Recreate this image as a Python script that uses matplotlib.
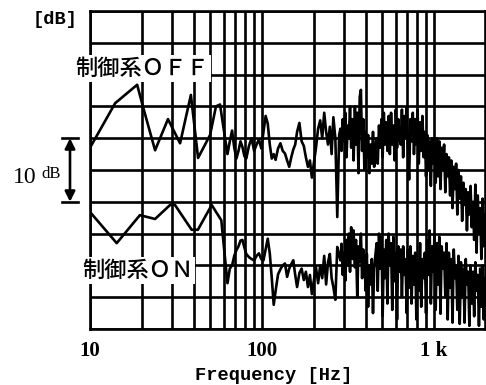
import numpy as np
import matplotlib
matplotlib.use("Agg")
import matplotlib.pyplot as plt
from matplotlib.ticker import NullFormatter

# low-frequency part (Hz, dB)
freq_off_lo = [10.0, 14.0, 18.8, 20.3, 23.9, 28.4, 33.4, 38.6, 42.5, 49.9, 54.0, 57.0]
db_off_lo = [28.5, 35.5, 38.4, 35.0, 28.1, 33.0, 29.2, 36.8, 26.9, 30.5, 35.0, 35.3]

freq_on_lo = [10.0, 14.3, 19.5, 23.9, 29.2, 31.2, 39.0, 42.4, 51.0, 58.0]
db_on_lo = [18.4, 13.5, 17.9, 17.3, 19.5, 19.5, 15.6, 15.6, 19.5, 17.1]

# dense part above ~60 Hz, shared frequency points
freq_hi = [63, 65, 67, 69, 71, 73, 75, 77, 79, 81,
           84, 87, 90, 93, 96, 99, 102, 105, 108, 111,
           114, 117, 120, 124, 128, 132, 136, 140, 144, 148,
           152, 156, 160, 165, 170, 175, 180, 185, 190, 195,
           200, 206, 212, 218, 224, 230, 236, 242, 248, 254,
           260, 267, 274, 281,
           286, 290, 295, 300, 305, 310, 315, 320, 325, 330,
           336, 341, 347, 352, 358, 364, 370, 376, 382, 388,
           394, 401, 407, 414, 421, 428, 435, 442, 449, 456,
           464, 471, 479, 487, 495, 503, 511, 519, 528, 536,
           545, 554, 563, 572, 581, 591, 600, 610, 620, 630,
           641, 651, 662, 672, 683, 694, 706, 717, 729, 741,
           753, 765, 778, 790, 803, 816, 830, 843, 857, 871,
           885, 899, 914, 929, 944, 959, 975, 991, 1007, 1023,
           1040, 1057, 1074, 1091, 1109, 1127, 1145, 1164, 1183, 1202,
           1221, 1241, 1261, 1282, 1303, 1324, 1345, 1367, 1389, 1412,
           1435, 1458, 1482, 1506, 1530, 1555, 1580, 1606, 1632, 1658,
           1685, 1713, 1740, 1769, 1797, 1826, 1856, 1886, 1917, 1948,
           1980]

db_off_hi = [27.5, 29.5, 31.2, 28.5, 26.8, 28.0, 29.5, 28.6, 27.2, 26.8,
             28.8, 30.0, 28.0, 29.0, 29.8, 28.4, 31.0, 33.5, 32.3, 29.0,
             26.8, 27.5, 26.6, 28.4, 29.2, 28.0, 27.6, 26.5, 25.5, 27.0,
             28.2, 29.0, 31.0, 32.4, 29.5, 28.8, 27.0, 25.5, 26.5, 23.8,
             26.0, 28.5, 31.5, 32.8, 30.0, 34.0, 31.0, 29.0, 31.8, 27.5,
             33.3, 30.0, 17.6, 30.5,
             31.5, 28.0, 33.0, 29.5, 34.0, 27.0, 32.0, 30.0, 35.0, 28.5,
             33.0, 26.5, 35.0, 29.0, 34.0, 24.5, 36.5, 37.6, 28.0, 33.0,
             25.0, 31.0, 27.0, 30.5, 24.5, 29.0, 26.0, 31.0, 25.5, 28.5,
             30.0, 26.0, 32.0, 28.5, 33.0, 27.0, 34.0, 29.0, 32.5, 28.0,
             33.5, 27.5, 34.0, 29.0, 32.0, 26.5, 34.5, 28.5, 33.0, 30.0,
             29.0, 34.5, 27.0, 33.5, 30.0, 35.0, 28.0, 23.5, 33.0, 29.5,
             34.0, 27.5, 33.0, 29.0, 34.5, 26.0, 32.5, 28.0, 33.5, 27.0,
             31.0, 24.0, 30.5, 25.0, 29.5, 22.5, 30.0, 26.0, 29.0, 23.0,
             30.0, 24.0, 29.5, 22.0, 28.5, 25.0, 29.0, 21.5, 27.5, 24.0,
             27.0, 21.0, 26.5, 19.0, 25.5, 22.0, 26.0, 18.0, 25.0, 20.5,
             24.0, 17.0, 23.0, 19.5, 22.0, 15.5, 21.5, 18.0, 22.5, 16.0,
             20.0, 14.0, 22.7, 12.0, 21.0, 15.0, 19.0, 11.0, 20.5, 13.0,
             18.0]

db_on_hi = [7.2, 9.5, 10.0, 11.5, 12.4, 13.0, 13.9, 14.0, 12.8, 11.8,
            11.3, 11.0, 10.8, 11.5, 11.9, 11.0, 10.8, 12.5, 14.2, 11.9,
            8.0, 3.8, 6.0, 8.6, 9.4, 10.0, 10.3, 8.2, 9.5, 10.2,
            10.8, 8.5, 6.6, 8.8, 9.5, 7.7, 9.0, 6.6, 8.5, 5.5,
            7.5, 9.7, 7.2, 10.0, 8.0, 11.5, 7.0, 10.5, 11.8, 8.0,
            6.6, 4.6, 12.9, 11.5,
            10.8, 13.4, 8.5, 12.0, 7.6, 14.0, 10.0, 15.0, 9.0, 16.0,
            11.0, 15.5, 9.7, 14.0, 5.0, 13.0, 10.5, 15.0, 8.0, 12.5,
            10.5, 6.0, 11.8, 3.5, 10.0, 7.0, 11.0, 2.5, 9.5, 11.5,
            13.5, 6.0, 15.0, 9.5, 14.5, 2.0, 12.5, 8.0, 14.0, 4.0,
            15.0, 10.0, 13.5, 3.0, 14.5, 7.5, 12.0, 1.5, 13.0, 9.0,
            12.5, 5.0, 13.0, 8.5, 11.0, 2.5, 12.5, 6.5, 13.0, 4.0,
            11.5, 7.0, 12.0, 1.5, 10.5, 6.0, 13.5, 3.5, 11.0, 8.0,
            12.0, 2.5, 14.0, 8.5, 15.5, 4.0, 13.0, 9.0, 15.0, 3.0,
            13.5, 7.0, 14.5, 2.4, 13.0, 9.5, 12.0, 5.0, 13.5, 1.5,
            12.0, 6.5, 11.0, 1.0, 12.5, 8.0, 10.0, 3.0, 11.5, 0.8,
            10.5, 5.0, 9.5, 1.0, 11.0, 7.0, 9.0, 0.5, 10.0, 4.0,
            9.0, 2.0, 10.5, 6.0, 8.5, 0.5, 9.5, 3.5, 10.0, 1.5,
            8.0]

major_ticks = [10, 100, 1000]
major_labels = ["10", "100", "1 k"]
minor_ticks = [20, 30, 40, 50, 60, 70, 80, 90, 200, 300, 400, 500, 600, 700, 800, 900]

freq_off = freq_off_lo + freq_hi
db_off = db_off_lo + db_off_hi
freq_on = freq_on_lo + freq_hi
db_on = db_on_lo + db_on_hi

W, H = 486, 385
fig = plt.figure(figsize=(W / 100, H / 100), dpi=100)
ax = fig.add_axes([90 / W, (H - 329) / H, 395 / W, 318 / H])

ax.plot(freq_off, db_off, color="black", lw=1.9, zorder=3)
ax.plot(freq_on, db_on, color="black", lw=1.9, zorder=3)

ax.set_xscale("log")
ax.set_xlim(10, 1980)
ax.set_ylim(0, 50)
ax.set_xticks(major_ticks, major_labels)
ax.set_xticks(minor_ticks, minor=True)
ax.xaxis.set_minor_formatter(NullFormatter())
ax.set_yticks(np.arange(0, 51, 5))
ax.set_yticklabels([])
ax.grid(which="both", color="black", lw=1.9)
ax.tick_params(which="both", length=0, pad=9)
for lab in ax.get_xticklabels():
    lab.set_fontfamily("Liberation Serif")
    lab.set_fontweight("bold")
    lab.set_fontsize(15)
for sp in ax.spines.values():
    sp.set_linewidth(1.9)

# 10 dB scale arrow left of the axes
trans = ax.get_yaxis_transform()
xa = (70 - 90) / 395
ax.annotate("", xy=(xa, 20), xytext=(xa, 30), xycoords=trans, textcoords=trans,
            arrowprops=dict(arrowstyle="<|-|>", color="black", lw=1.9,
                            mutation_scale=15, shrinkA=0, shrinkB=0),
            annotation_clip=False)
for yv in [20, 30]:
    ax.plot([xa - 0.02, xa + 0.02], [yv, yv], color="black", lw=1.9,
            transform=trans, clip_on=False)

cjk = ["Noto Sans CJK JP", "DejaVu Sans"]
box = dict(facecolor="white", edgecolor="none", pad=1.5)
fig.text(75 / W, (H - 68) / H, "制御系ＯＦＦ", family=cjk, fontsize=16,
         fontweight="medium", ha="left", va="center", bbox=box, zorder=10)
fig.text(82 / W, (H - 270) / H, "制御系ＯＮ", family=cjk, fontsize=16,
         fontweight="medium", ha="left", va="center", bbox=box, zorder=10)

fig.text(55 / W, (H - 20) / H, "[dB]", family="Liberation Mono", fontweight="bold",
         fontsize=13.5, ha="center", va="center")
fig.text(274 / W, (H - 375) / H, "Frequency [Hz]", family="Liberation Mono",
         fontweight="bold", fontsize=13.5, ha="center", va="center")
fig.text(13 / W, (H - 177) / H, "10", family="Liberation Serif", fontsize=17,
         ha="left", va="center")
fig.text(41 / W, (H - 166) / H, "dB", family="Liberation Serif", fontsize=12,
         ha="left", va="top")

fig.savefig("out.png", dpi=100)
